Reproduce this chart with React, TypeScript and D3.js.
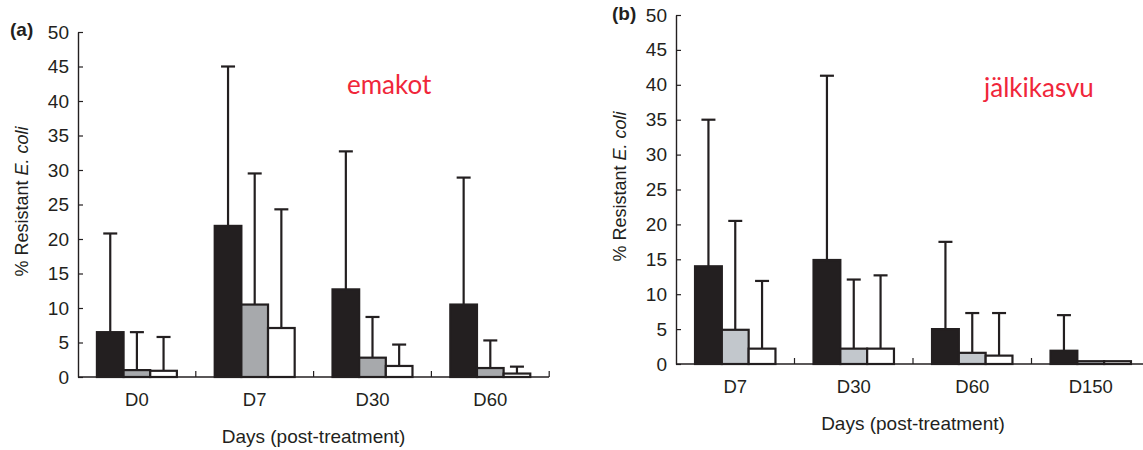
import React, { useEffect, useRef } from "react";
import * as d3 from "d3";

// panel (a): sows
const CATS_A = ["D0", "D7", "D30", "D60"];
const A_DARK = [6.5, 21.9, 12.7, 10.5];
const A_DARK_ERR = [20.8, 45.0, 32.7, 28.9];
const A_GREY = [1.0, 10.5, 2.8, 1.3];
const A_GREY_ERR = [6.5, 29.5, 8.7, 5.3];
const A_WHITE = [0.9, 7.1, 1.6, 0.5];
const A_WHITE_ERR = [5.8, 24.3, 4.7, 1.5];

// panel (b): offspring
const CATS_B = ["D7", "D30", "D60", "D150"];
const B_DARK = [14.0, 14.9, 5.0, 1.9];
const B_DARK_ERR = [35.0, 41.3, 17.5, 7.0];
const B_GREY = [4.9, 2.2, 1.6, 0.4];
const B_GREY_ERR = [20.5, 12.1, 7.3, null];
const B_WHITE = [2.2, 2.2, 1.2, 0.4];
const B_WHITE_ERR = [11.9, 12.7, 7.3, null];

const Y_MAX = 50;
const INK = "#231f20";
const FONT = "'Liberation Sans', Arial, sans-serif";

type Panel = {
  tag: string;
  note: string;
  cats: string[];
  means: number[][];
  errs: (number | null)[][];
  fills: string[];
  x0: number;
  band: number;
  axisEnd: number;
  y0: number;
  y1: number;
  noteX: number;
  noteY: number;
  tagX: number;
  tagY: number;
};

const PANELS: Panel[] = [
  {
    tag: "(a)",
    note: "emakot",
    cats: CATS_A,
    means: [A_DARK, A_GREY, A_WHITE],
    errs: [A_DARK_ERR, A_GREY_ERR, A_WHITE_ERR],
    fills: [INK, "#a7a9ac", "#ffffff"],
    x0: 78,
    band: 117.8,
    axisEnd: 549,
    y0: 377,
    y1: 32,
    noteX: 347,
    noteY: 94,
    tagX: 10,
    tagY: 36,
  },
  {
    tag: "(b)",
    note: "jälkikasvu",
    cats: CATS_B,
    means: [B_DARK, B_GREY, B_WHITE],
    errs: [B_DARK_ERR, B_GREY_ERR, B_WHITE_ERR],
    fills: [INK, "#c2c7cc", "#ffffff"],
    x0: 676,
    band: 118.5,
    axisEnd: 1143,
    y0: 364,
    y1: 15,
    noteX: 984,
    noteY: 97,
    tagX: 612,
    tagY: 20,
  },
];

function drawPanel(svg: d3.Selection<SVGSVGElement, unknown, null, undefined>, p: Panel) {
  const y = d3.scaleLinear().domain([0, Y_MAX]).range([p.y0, p.y1]);
  const x = d3
    .scaleBand()
    .domain(p.cats)
    .range([p.x0, p.x0 + p.band * p.cats.length]);
  const inner = d3
    .scaleBand<number>()
    .domain(d3.range(p.means.length))
    .range([0, x.bandwidth()])
    .paddingOuter(0.71);

  const g = svg.append("g");

  // y axis, ticks pointing inward
  const ya = g
    .append("g")
    .attr("transform", `translate(${p.x0},0)`)
    .call(
      d3
        .axisLeft(y)
        .ticks(10)
        .tickSizeInner(-5)
        .tickSizeOuter(0)
        .tickPadding(9),
    );
  ya.attr("font-family", FONT).attr("font-size", 19);
  ya.select(".domain").attr("stroke", INK).attr("stroke-width", 1.4);
  ya.selectAll(".tick line").attr("stroke", INK).attr("stroke-width", 1.2);
  ya.selectAll(".tick text").attr("fill", INK);

  // x axis baseline + boundary ticks
  g.append("line")
    .attr("x1", p.x0)
    .attr("x2", p.axisEnd)
    .attr("y1", p.y0)
    .attr("y2", p.y0)
    .attr("stroke", INK)
    .attr("stroke-width", 1.4);
  g.selectAll(".btick")
    .data(p.cats)
    .join("line")
    .attr("x1", (d) => x(d)! + x.bandwidth())
    .attr("x2", (d) => x(d)! + x.bandwidth())
    .attr("y1", p.y0)
    .attr("y2", p.y0 - 6)
    .attr("stroke", INK)
    .attr("stroke-width", 1.2);

  g.selectAll(".cat")
    .data(p.cats)
    .join("text")
    .attr("x", (d) => x(d)! + x.bandwidth() / 2)
    .attr("y", p.y0 + 29)
    .attr("text-anchor", "middle")
    .attr("font-family", FONT)
    .attr("font-size", 18.5)
    .attr("fill", INK)
    .text((d) => d);

  g.append("text")
    .attr("x", (p.x0 + p.x0 + p.band * p.cats.length) / 2)
    .attr("y", p.y0 + 66)
    .attr("text-anchor", "middle")
    .attr("font-family", FONT)
    .attr("font-size", 19)
    .attr("fill", INK)
    .text("Days (post-treatment)");

  // y title
  const yt = g
    .append("text")
    .attr("transform", `translate(${p.x0 - 50},${(p.y0 + p.y1) / 2 - 3}) rotate(-90)`)
    .attr("text-anchor", "middle")
    .attr("font-family", FONT)
    .attr("font-size", 18)
    .attr("fill", INK);
  yt.append("tspan").text("% Resistant ");
  yt.append("tspan").attr("font-style", "italic").text("E. coli");

  // panel tag and red note
  g.append("text")
    .attr("x", p.tagX)
    .attr("y", p.tagY)
    .attr("font-family", FONT)
    .attr("font-weight", "bold")
    .attr("font-size", 19)
    .attr("fill", INK)
    .text(p.tag);
  g.append("text")
    .attr("x", p.noteX)
    .attr("y", p.noteY)
    .attr("font-family", "Lato, 'Open Sans', sans-serif")
    .attr("font-size", 26)
    .attr("fill", "#f0263a")
    .text(p.note);

  // bars with upward error bars
  p.means.forEach((series, s) => {
    const cx = (c: string) => x(c)! + inner(s)! + inner.bandwidth() / 2;
    series.forEach((v, i) => {
      const c = p.cats[i];
      const e = p.errs[s][i];
      if (e != null) {
        g.append("line")
          .attr("x1", cx(c))
          .attr("x2", cx(c))
          .attr("y1", y(v))
          .attr("y2", y(e))
          .attr("stroke", INK)
          .attr("stroke-width", 2.2);
        g.append("line")
          .attr("x1", cx(c) - 7)
          .attr("x2", cx(c) + 7)
          .attr("y1", y(e))
          .attr("y2", y(e))
          .attr("stroke", INK)
          .attr("stroke-width", 2.2);
      }
      g.append("rect")
        .attr("x", x(c)! + inner(s)!)
        .attr("y", y(v))
        .attr("width", inner.bandwidth())
        .attr("height", p.y0 - y(v))
        .attr("fill", p.fills[s])
        .attr("stroke", INK)
        .attr("stroke-width", 2.2);
    });
  });
}

export default function App() {
  const svgRef = useRef<SVGSVGElement | null>(null);

  useEffect(() => {
    const svg = d3.select(svgRef.current!);
    svg.selectAll("*").remove();
    PANELS.forEach((p) => drawPanel(svg, p));
  }, []);

  return (
    <svg
      ref={svgRef}
      width={1143}
      height={450}
      style={{ position: "absolute", left: 0, top: 0, background: "#fff" }}
    />
  );
}
